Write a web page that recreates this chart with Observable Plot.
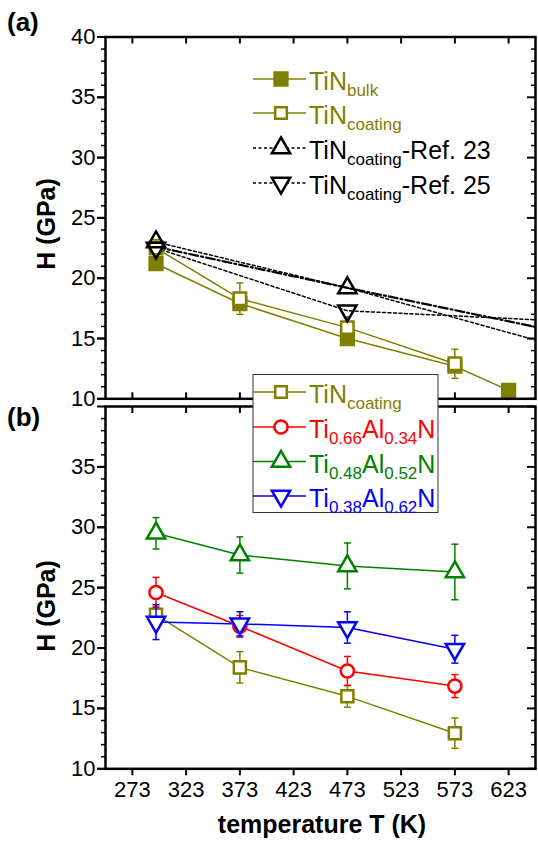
<!DOCTYPE html>
<html><head><meta charset="utf-8">
<script src="https://cdn.jsdelivr.net/npm/d3@7"></script>
<script src="https://cdn.jsdelivr.net/npm/@observablehq/plot@0.6"></script>
<style>
body{margin:0;background:#fff;}
#wrap{position:relative;width:538px;height:843px;overflow:hidden;background:#fff;}
#wrap > svg{position:absolute;left:0;}
</style></head><body><div id="wrap"></div>
<script>
// ---------- data ----------
const temps = [295, 373, 473, 573];
const bulkT = [295, 373, 473, 573, 623];
const bulkH = [21.2, 17.9, 15.0, 12.7, 10.7];
const coatAH = [22.5, 18.3, 15.9, 12.9];
const coatAErr = [0.7, 1.3, 0.9, 1.2];
const refT = [295, 473, 673];
const ref23H = [23.0, 19.2, 14.25];
const ref25H = [22.5, 17.3, 16.45];
const refDashDotH = [22.6, 19.2, 15.5];
const coatBH = [22.75, 18.4, 16.0, 12.95];
const coatBErr = [0.7, 1.3, 0.9, 1.25];
const tial34H = [24.6, 21.8, 18.1, 16.85];
const tial34Err = [1.25, 0.9, 1.2, 0.95];
const tial52H = [29.5, 27.7, 26.8, 26.3];
const tial52Err = [1.3, 1.5, 1.9, 2.3];
const tial62H = [22.15, 22.0, 21.7, 19.9];
const tial62Err = [1.45, 1.0, 1.3, 1.15];
const xTicks = [273, 323, 373, 423, 473, 523, 573, 623];
const yTicksA = [10, 15, 20, 25, 30, 35, 40];
const yTicksB = [10, 15, 20, 25, 30, 35];
const xDomain = [248, 648];
const yDomain = [10, 40];
const yMinor = d3.range(10, 41, 1).filter(v => v % 5 !== 0);

const olive = "#808000", red = "#ff0000", green = "#008000", blue = "#0000ff";
const font = "'Liberation Sans', Arial, Helvetica, sans-serif";

function rows(T, H, E) {
  return T.map((t, i) => ({T: t, H: H[i], lo: E ? H[i] - E[i] : null, hi: E ? H[i] + E[i] : null}));
}
const capSym = {draw(ctx, size) { const w = Math.sqrt(size / Math.PI); ctx.moveTo(-w, 0); ctx.lineTo(w, 0); }};
const triDown = {draw(ctx, size) {
  const y = Math.sqrt(size / (Math.sqrt(3) * 3));
  ctx.moveTo(0, 2 * y); ctx.lineTo(-Math.sqrt(3) * y, -y); ctx.lineTo(Math.sqrt(3) * y, -y); ctx.closePath();
}};

function series(data, color, symbol, o = {}) {
  const m = [];
  if (!o.noLine) m.push(Plot.line(data, {x: "T", y: "H", stroke: color, strokeWidth: 1.5, strokeDasharray: o.dash, clip: true}));
  if (o.err) {
    m.push(Plot.ruleX(data, {x: "T", y1: "lo", y2: "hi", stroke: color, strokeWidth: 1.5}));
    m.push(Plot.dot(data, {x: "T", y: "lo", symbol: capSym, r: 3.5, stroke: color, strokeWidth: 1.5}));
    m.push(Plot.dot(data, {x: "T", y: "hi", symbol: capSym, r: 3.5, stroke: color, strokeWidth: 1.5}));
  }
  if (symbol) m.push(Plot.dot(o.dotData || data, {x: "T", y: "H", symbol, r: o.r ?? 6.6, stroke: color, fill: o.fill ?? "white", strokeWidth: 2.5, clip: true}));
  return m;
}

function axes(labelTicks, bottomLabels) {
  return [
    Plot.axisY(labelTicks, {anchor: "left", tickSize: 8, tickPadding: 2, strokeWidth: 2, fontSize: 22, fill: "black", label: null}),
    Plot.axisY(yTicksA, {anchor: "left", tickSize: 8, strokeWidth: 2, fill: "none", label: null}),
    Plot.axisY(yMinor, {anchor: "left", tickSize: 4, strokeWidth: 1.5, fill: "none", label: null}),
    Plot.axisY(yTicksA, {anchor: "left", frameAnchor: "right", tickSize: 8, strokeWidth: 2, fill: "none", label: null}),
    Plot.axisY(yMinor, {anchor: "left", frameAnchor: "right", tickSize: 4, strokeWidth: 1.5, fill: "none", label: null}),
    Plot.axisX(xTicks, {anchor: "bottom", frameAnchor: "top", tickSize: 7, strokeWidth: 2, fill: "none", label: null}),
    bottomLabels
      ? Plot.axisX(xTicks, {anchor: "bottom", tickSize: 7, tickPadding: 6, strokeWidth: 2, fontSize: 22, fill: "black", label: null})
      : Plot.axisX(xTicks, {anchor: "top", frameAnchor: "bottom", tickSize: 7, strokeWidth: 2, fill: "none", label: null})
  ];
}

const wrap = document.getElementById("wrap");

// ---------- panel (a) ----------
const plotA = Plot.plot({
  width: 538, height: 405,
  marginTop: 36.5, marginBottom: 6.7, marginLeft: 105, marginRight: 3,
  style: {background: "transparent", fontFamily: font, fontSize: "22px", color: "black", overflow: "visible"},
  x: {domain: xDomain},
  y: {domain: yDomain},
  marks: [
    ...axes(yTicksA, false),
    ...series(rows(refT, ref23H), "black", null, {dash: "3,2.5"}),
    ...series(rows(refT, ref25H), "black", null, {dash: "3,2.5"}),
    Plot.line(rows(refT, refDashDotH), {x: "T", y: "H", stroke: "black", strokeWidth: 2.2, strokeDasharray: "9,3,2,3", clip: true}),
    ...series(rows(bulkT, bulkH), olive, "square", {fill: olive, r: 7.2}),
    ...series(rows(temps, coatAH, coatAErr), olive, "square", {err: true, r: 7}),
    Plot.dot(rows(refT.slice(0, 2), ref23H.slice(0, 2)), {x: "T", y: "H", symbol: "triangle", r: 6.8, stroke: "black", fill: "none", strokeWidth: 2.5}),
    Plot.dot(rows(refT.slice(0, 2), ref25H.slice(0, 2)), {x: "T", y: "H", symbol: triDown, r: 6.8, stroke: "black", fill: "none", strokeWidth: 2.5}),
    Plot.frame({stroke: "black", strokeWidth: 2.5})
  ]
});
plotA.style.top = "0px";
wrap.appendChild(plotA);

// ---------- panel (b) ----------
const plotB = Plot.plot({
  width: 538, height: 443,
  marginTop: 6, marginBottom: 74.7, marginLeft: 105, marginRight: 3,
  style: {background: "transparent", fontFamily: font, fontSize: "22px", color: "black", overflow: "visible"},
  x: {domain: xDomain},
  y: {domain: yDomain},
  marks: [
    ...axes(yTicksB, true),
    ...series(rows(temps, coatBH, coatBErr), olive, "square", {err: true, r: 6.8}),
    ...series(rows(temps, tial34H, tial34Err), red, "circle", {err: true, r: 6.6}),
    ...series(rows(temps, tial52H, tial52Err), green, "triangle", {err: true, r: 6.8}),
    ...series(rows(temps, tial62H, tial62Err), blue, triDown, {err: true, r: 6.8}),
    Plot.frame({stroke: "black", strokeWidth: 2.5})
  ]
});
plotB.style.top = "400px";
wrap.appendChild(plotB);

// ---------- overlay: labels & legends ----------
const svg = d3.create("svg").attr("width", 538).attr("height", 843)
  .style("position", "absolute").style("top", "0px").style("left", "0px")
  .style("font-family", font);

svg.append("text").attr("x", 7).attr("y", 31).attr("font-size", 26).attr("font-weight", "bold").text("(a)");
svg.append("text").attr("x", 7).attr("y", 426).attr("font-size", 26).attr("font-weight", "bold").text("(b)");
for (const cy of [224, 606]) {
  svg.append("text").attr("transform", `translate(55,${cy}) rotate(-90)`).attr("text-anchor", "middle")
    .attr("font-size", 25).attr("font-weight", "bold").text("H (GPa)");
}
svg.append("text").attr("x", 322).attr("y", 833).attr("text-anchor", "middle")
  .attr("font-size", 25).attr("font-weight", "bold").text("temperature T (K)");

const legendA = [
  {y: 79, color: olive, dash: null, sym: d3.symbolSquare, fill: olive, r: 7.2, parts: [["TiN", 0], ["bulk", 1]]},
  {y: 113, color: olive, dash: null, sym: d3.symbolSquare, fill: "white", r: 6.6, parts: [["TiN", 0], ["coating", 1]]},
  {y: 148, color: "black", dash: "3,2.5", sym: d3.symbolTriangle, fill: "white", r: 6.8, parts: [["TiN", 0], ["coating", 1], ["-Ref. 23", 0]]},
  {y: 183, color: "black", dash: "3,2.5", sym: triDown, fill: "white", r: 6.8, parts: [["TiN", 0], ["coating", 1], ["-Ref. 25", 0]]}
];
const legendB = [
  {y: 392, color: olive, sym: d3.symbolSquare, fill: "white", r: 6.6, parts: [["TiN", 0], ["coating", 1]]},
  {y: 427, color: red, sym: d3.symbolCircle, fill: "white", r: 6.6, parts: [["Ti", 0], ["0.66", 1], ["Al", 0], ["0.34", 1], ["N", 0]]},
  {y: 461.5, color: green, sym: d3.symbolTriangle, fill: "white", r: 6.8, parts: [["Ti", 0], ["0.48", 1], ["Al", 0], ["0.52", 1], ["N", 0]]},
  {y: 496, color: blue, sym: triDown, fill: "white", r: 6.8, parts: [["Ti", 0], ["0.38", 1], ["Al", 0], ["0.62", 1], ["N", 0]]}
];

svg.append("rect").attr("x", 253).attr("y", 374.5).attr("width", 185).attr("height", 138)
  .attr("fill", "white").attr("stroke", "#333").attr("stroke-width", 1);

function drawLegend(items) {
  for (const it of items) {
    svg.append("line").attr("x1", 253).attr("x2", 306).attr("y1", it.y).attr("y2", it.y)
      .attr("stroke", it.color).attr("stroke-width", 1.5).attr("stroke-dasharray", it.dash || null);
    svg.append("path").attr("transform", `translate(281,${it.y})`)
      .attr("d", d3.symbol().type(it.sym).size(Math.PI * it.r * it.r)())
      .attr("fill", it.fill).attr("stroke", it.color).attr("stroke-width", 2.5);
    const t = svg.append("text").attr("x", 309).attr("y", it.y + 11).attr("fill", it.color).attr("font-size", 25);
    let sub = false;
    for (const [s, isSub] of it.parts) {
      const ts = t.append("tspan").text(s);
      if (isSub && !sub) { ts.attr("dy", 6).attr("font-size", 17); sub = true; }
      else if (isSub) { ts.attr("font-size", 17); }
      else if (!isSub && sub) { ts.attr("dy", -6); sub = false; }
    }
  }
}
drawLegend(legendA);
drawLegend(legendB);
wrap.appendChild(svg.node());
</script></body></html>
